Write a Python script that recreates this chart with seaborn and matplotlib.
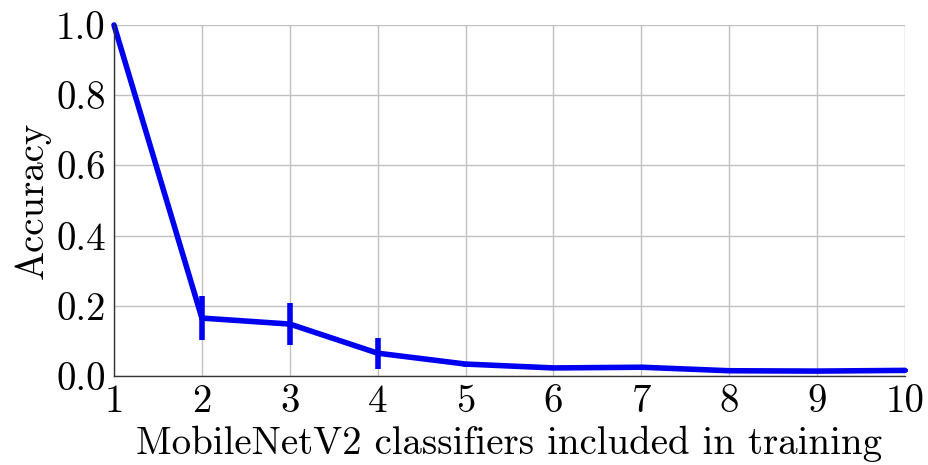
import matplotlib
matplotlib.use("Agg")
import matplotlib.pyplot as plt
import seaborn as sns
import pandas as pd

classifiers = [1, 2, 3, 4, 5, 6, 7, 8, 9, 10]
accuracy = [1.0, 0.165, 0.148, 0.065, 0.034, 0.023, 0.025, 0.015, 0.014, 0.016]
err = [0.0, 0.063, 0.060, 0.044, 0.007, 0.005, 0.005, 0.004, 0.003, 0.004]
x_ticks = [1, 2, 3, 4, 5, 6, 7, 8, 9, 10]
y_ticks = [0.0, 0.2, 0.4, 0.6, 0.8, 1.0]

sns.set_style("whitegrid")
plt.rcParams['font.family'] = ['cmr10', 'DejaVu Serif']
plt.rcParams['axes.formatter.use_mathtext'] = True
plt.rcParams['text.color'] = 'black'
plt.rcParams['axes.labelcolor'] = 'black'
plt.rcParams['xtick.color'] = 'black'
plt.rcParams['ytick.color'] = 'black'

df = pd.DataFrame({"x": classifiers, "y": accuracy, "e": err})

fig, ax = plt.subplots(figsize=(9.29, 4.65), dpi=100)
sns.lineplot(data=df, x="x", y="y", ax=ax, color="#0000f0", linewidth=4, clip_on=False)
ax.errorbar(df["x"], df["y"], yerr=df["e"], fmt="none", ecolor="#0000f0", elinewidth=4, capsize=0, clip_on=False)

ax.set_xlim(1, 10)
ax.set_ylim(0, 1.0)
ax.set_xticks(x_ticks)
ax.set_yticks(y_ticks)
ax.set_xticklabels([str(t) for t in x_ticks])
ax.set_yticklabels([f"{t:.1f}" for t in y_ticks])
ax.tick_params(labelsize=28, length=5, width=1, color="#333333", direction="out", pad=1)
ax.grid(True, color="#c0c0c0", linewidth=1)
for s in ["top", "right"]:
    ax.spines[s].set_visible(False)
for s in ["left", "bottom"]:
    ax.spines[s].set_color("#333333")
    ax.spines[s].set_linewidth(1)
ax.set_xlabel("MobileNetV2 classifiers included in training", fontsize=28, labelpad=4)
ax.set_ylabel("Accuracy", fontsize=28, labelpad=4)

fig.subplots_adjust(left=114/929, right=905/929, top=1-25/465, bottom=1-376/465)
fig.savefig("out.png", dpi=100)
